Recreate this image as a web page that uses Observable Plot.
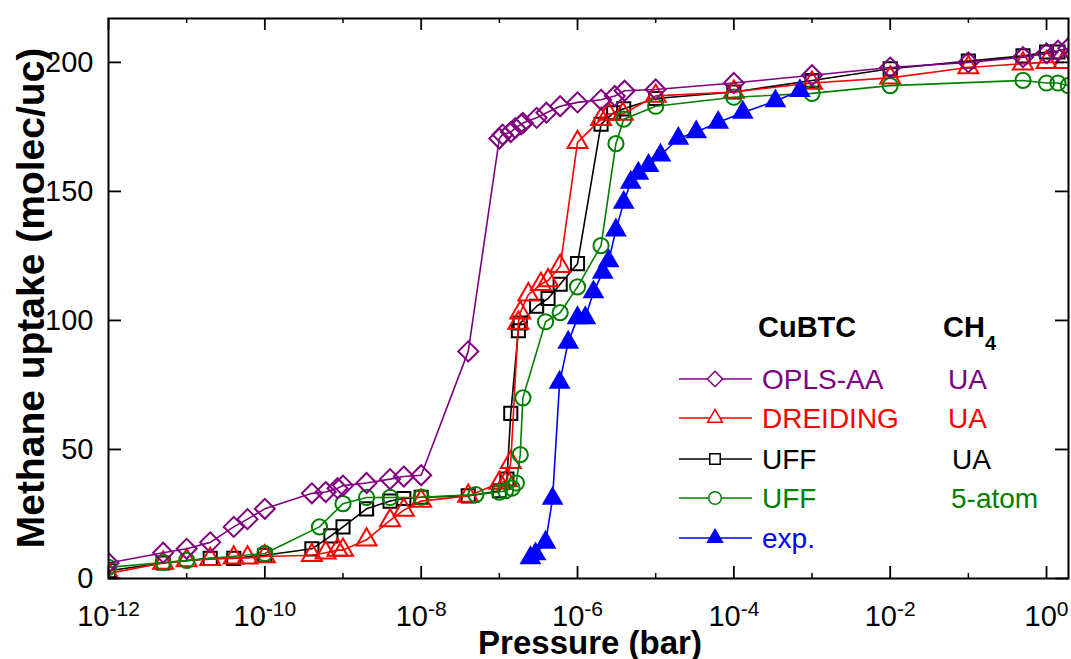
<!DOCTYPE html>
<html>
<head>
<meta charset="utf-8">
<script src="https://cdn.jsdelivr.net/npm/d3@7"></script>
<script src="https://cdn.jsdelivr.net/npm/@observablehq/plot@0.6"></script>
<style>
  body { margin: 0; background: #fff; }
  #chart { width: 1071px; height: 659px; }
</style>
</head>
<body>
<div id="chart"></div>
<script>
// ---------- data (pressure in bar, uptake in molec/uc) ----------
const oplsP = [1e-12, 5e-12, 1e-11, 2e-11, 4e-11, 6e-11, 1e-10, 4e-10, 6e-10, 8.5e-10, 1e-9, 2e-9, 4e-9, 6e-9, 1e-8,
  4e-8, 1e-7, 1.1e-7, 1.4e-7, 1.6e-7, 1.9e-7, 2e-7, 3e-7, 4e-7, 6e-7, 1e-6, 2e-6, 3e-6, 4e-6, 1e-5,
  1e-4, 1e-3, 1e-2, 1e-1, 0.5, 1.0, 1.4, 1.9];
const oplsN = [6, 10, 11.5, 14, 20, 23, 27, 33, 33.5, 35, 36, 37, 38.5, 39.5, 40,
  88, 170.5, 172, 173, 174.5, 176, 176.5, 178.5, 180.5, 183, 184.5, 185.5, 187, 189, 189.5,
  192, 195, 198, 200, 202, 203.5, 204.5, 205.5];

const dreidP = [1e-12, 5e-12, 1e-11, 2e-11, 4e-11, 6e-11, 1e-10, 4e-10, 6e-10, 8.5e-10, 1e-9, 2e-9, 4e-9, 6e-9, 1e-8,
  4e-8, 1e-7, 1.25e-7, 1.4e-7, 1.75e-7, 1.85e-7, 2.35e-7, 3.4e-7, 4.2e-7, 6e-7, 1e-6, 2e-6, 2.5e-6, 3.8e-6, 1e-5,
  1e-4, 1e-3, 1e-2, 1e-1, 0.5, 1.0, 1.65];
const dreidN = [2, 6, 7, 7.5, 8, 8, 8.5, 9, 10, 11, 11, 15, 22.5, 26.5, 30,
  32, 37, 38, 45, 99, 103, 110, 114, 115.5, 121, 169, 178, 180, 180, 187,
  188.5, 192, 194, 198, 199.5, 200, 200];

const uffP = [1e-12, 5e-12, 2e-11, 4e-11, 1e-10, 4e-10, 7e-10, 1e-9, 2e-9, 4e-9, 6e-9, 1e-8,
  4e-8, 1e-7, 1.25e-7, 1.4e-7, 1.75e-7, 1.85e-7, 3e-7, 4.2e-7, 6e-7, 1e-6, 2e-6, 2.9e-6, 3.9e-6, 1e-5,
  1e-4, 1e-3, 1e-2, 1e-1, 0.5, 1.0, 1.4];
const uffN = [3, 6, 7.8, 7.8, 9, 11.5, 16.5, 20, 27, 30, 31, 31.5,
  32, 34, 38.5, 64, 96, 99, 105.5, 108.5, 114, 122, 176, 180.5, 182, 186,
  188.5, 193, 197.5, 200.5, 202.5, 204, 204];

const uff5P = [1e-12, 5e-12, 1e-11, 1e-10, 5e-10, 1e-9, 2e-9, 4e-9, 1e-8,
  5e-8, 1e-7, 1.2e-7, 1.45e-7, 1.65e-7, 1.85e-7, 2e-7, 3.9e-7, 6e-7, 1e-6, 2e-6, 3.1e-6, 3.9e-6, 1e-5,
  1e-4, 1e-3, 1e-2, 0.5, 1.0, 1.4, 1.9];
const uff5N = [4.3, 6.2, 7, 9.7, 20, 29, 31.4, 31.4, 31.5,
  32.5, 33.5, 34, 35, 37, 48, 70, 99.5, 103, 113, 129, 168.5, 178, 183,
  186.5, 188, 191, 193, 192, 192, 191];

const expP = [2.5e-7, 2.9e-7, 3.9e-7, 4.8e-7, 5.9e-7, 7.6e-7, 1e-6, 1.26e-6, 1.6e-6, 2.1e-6, 2.5e-6,
  3.1e-6, 3.9e-6, 4.8e-6, 6e-6, 8.1e-6, 1.15e-5, 1.95e-5, 3.3e-5, 6.3e-5, 1.3e-4, 3.4e-4, 7e-4];
const expN = [8, 9.5, 14, 31, 76, 91.5, 101, 101, 111, 118.6, 123,
  135, 145.7, 153.5, 157, 160, 164, 170.5, 173, 176.7, 180.6, 185, 189];

const xMajorTicks = [1e-12, 1e-10, 1e-8, 1e-6, 1e-4, 1e-2, 1];
const xMinorTicks = [1e-11, 1e-9, 1e-7, 1e-5, 1e-3, 1e-1];
const yTicks = [0, 50, 100, 150, 200];

const legendHeader = ["CuBTC", "CH"];
const seriesNames = ["OPLS-AA", "DREIDING", "UFF", "UFF", "exp."];
const ch4Models = ["UA", "UA", "UA", "5-atom", ""];

// ---------- styling ----------
const FONT = '"Liberation Sans", Arial, Helvetica, sans-serif';
const W = 1071, H = 659;
const mL = 108, mR = 3, mT = 18, mB = 81;
const frameW = W - mL - mR, frameH = H - mT - mB;

const series = [
  {key: "uff", P: uffP, N: uffN, color: "#000000", symbol: "square", d3sym: d3.symbolSquare, r: 7.4, fill: "none", legSize: 110},
  {key: "dreid", P: dreidP, N: dreidN, color: "#ff0000", symbol: "triangle", d3sym: d3.symbolTriangle, r: 7.4, fill: "none", legSize: 95},
  {key: "uff5", P: uff5P, N: uff5N, color: "#008000", symbol: "circle", d3sym: d3.symbolCircle, r: 7.6, fill: "none", legSize: 125},
  {key: "exp", P: expP, N: expN, color: "#0000ff", symbol: "triangle", d3sym: d3.symbolTriangle, r: 6.8, fill: "#0000ff", legSize: 95},
  {key: "opls", P: oplsP, N: oplsN, color: "#800080", symbol: "diamond2", d3sym: d3.symbolDiamond2, r: 9, fill: "none", legSize: 150}
];
const legendOrder = ["opls", "dreid", "uff", "uff5", "exp"];

const marks = [];
for (const s of series) {
  const data = s.P.map((p, i) => ({P: p, N: s.N[i]}));
  marks.push(Plot.line(data, {x: "P", y: "N", stroke: s.color, strokeWidth: 1.6, clip: true}));
  marks.push(Plot.dot(data, {x: "P", y: "N", symbol: () => s.symbol, r: s.r, stroke: s.color, fill: s.fill, strokeWidth: 2, clip: true}));
}

const chart = Plot.plot({
  width: W, height: H,
  marginLeft: mL, marginRight: mR, marginTop: mT, marginBottom: mB,
  style: {fontFamily: FONT, background: "#fff", color: "#000", overflow: "visible"},
  x: {type: "log", domain: [1e-12, 1.91]},
  y: {domain: [0, 217]},
  marks: [
    ...marks,
    // ticks (inward, mirrored on all four sides)
    Plot.tickX(xMajorTicks, {x: d => d, insetTop: frameH - 12, stroke: "#000", strokeWidth: 1.8}),
    Plot.tickX(xMajorTicks, {x: d => d, insetBottom: frameH - 12, stroke: "#000", strokeWidth: 1.8}),
    Plot.tickX(xMinorTicks, {x: d => d, insetTop: frameH - 5, stroke: "#000", strokeWidth: 1.5}),
    Plot.tickX(xMinorTicks, {x: d => d, insetBottom: frameH - 5, stroke: "#000", strokeWidth: 1.5}),
    Plot.tickY(yTicks, {y: d => d, insetRight: frameW - 13, stroke: "#000", strokeWidth: 1.8}),
    Plot.tickY(yTicks, {y: d => d, insetLeft: frameW - 13, stroke: "#000", strokeWidth: 1.8}),
    Plot.axisX(xMajorTicks, {tickSize: 0, tickPadding: 27, fontSize: 29, label: null,
      tickFormat: d => String(Math.round(Math.log10(d)))}),
    Plot.axisY(yTicks, {tickSize: 0, tickPadding: 15, fontSize: 29, label: null}),
    Plot.frame({stroke: "#000", strokeWidth: 2})
  ]
});

const svg = d3.select(chart);

// tick label sizes
svg.selectAll('g[aria-label="y-axis tick label"]').attr("font-size", 29);
svg.selectAll('g[aria-label="y-axis tick label"] text').attr("font-size", 29);
svg.selectAll('g[aria-label="x-axis tick label"]').attr("font-size", 29);

// superscript exponents on x tick labels
svg.selectAll('g[aria-label="x-axis tick label"] text').each(function () {
  const e = this.textContent;
  const t = d3.select(this);
  t.attr("font-size", 29);
  t.text(null);
  t.append("tspan").text("10");
  t.append("tspan").attr("dy", -10).attr("font-size", 21).text(e);
});

// axis titles
svg.append("text")
  .attr("x", 590).attr("y", 654)
  .attr("text-anchor", "middle")
  .attr("font-family", FONT).attr("font-weight", "bold").attr("font-size", 33)
  .text("Pressure (bar)");
svg.append("text")
  .attr("transform", "translate(44,298) rotate(-90)")
  .attr("text-anchor", "middle")
  .attr("font-family", FONT).attr("font-weight", "bold").attr("font-size", 39)
  .text("Methane uptake (molec/uc)");

// legend
const leg = svg.append("g").attr("font-family", FONT).attr("text-anchor", "start");
leg.append("text").attr("x", 758).attr("y", 337).attr("font-weight", "bold").attr("font-size", 29).text(legendHeader[0]);
const ch = leg.append("text").attr("x", 943).attr("y", 337).attr("font-weight", "bold").attr("font-size", 29);
ch.append("tspan").text(legendHeader[1]);
ch.append("tspan").attr("dy", 13).attr("font-size", 20).text("4");

const rowY = [379, 418, 459, 498, 538];
const col2X = [948, 948, 952, 951, 951];
legendOrder.forEach((k, i) => {
  const s = series.find(d => d.key === k);
  const y = rowY[i];
  leg.append("line").attr("x1", 679).attr("x2", 752).attr("y1", y).attr("y2", y)
    .attr("stroke", s.color).attr("stroke-width", 1.6);
  leg.append("path").attr("d", d3.symbol(s.d3sym, s.legSize)())
    .attr("transform", `translate(715,${y})`)
    .attr("fill", s.fill === "none" ? "#fff" : s.fill)
    .attr("stroke", s.color).attr("stroke-width", 1.5);
  leg.append("text").attr("x", 762).attr("y", y + 10).attr("font-size", 28)
    .attr("fill", s.color).text(seriesNames[i]);
  if (ch4Models[i]) {
    leg.append("text").attr("x", col2X[i]).attr("y", y + 10).attr("font-size", 28)
      .attr("fill", s.color).text(ch4Models[i]);
  }
});

document.getElementById("chart").appendChild(chart);
</script>
</body>
</html>
